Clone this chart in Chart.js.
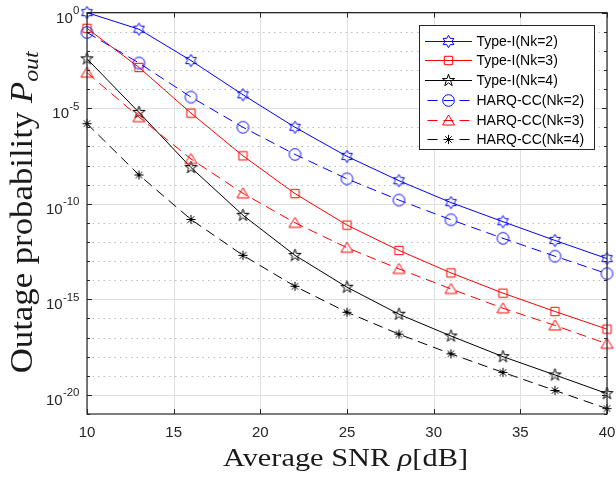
<!DOCTYPE html>
<html>
<head>
<meta charset="utf-8">
<script src="https://cdn.jsdelivr.net/npm/chart.js@4.4.1/dist/chart.umd.min.js"></script>
<style>
html,body{margin:0;padding:0;background:#ffffff;}
#wrap{width:616px;height:481px;}
canvas{display:block;}
</style>
</head>
<body>
<div id="wrap"><canvas id="chart" width="616" height="481"></canvas></div>
<script>
// ---------------- data ----------------
const snr = [10, 13, 16, 19, 22, 25, 28, 31, 34, 37, 40];
const typeI_Nk2 = [1, 1.35e-1, 3.1e-3, 5.0e-5, 1.0e-6, 3.0e-8, 1.6e-9, 1.15e-10, 1.15e-11, 1.2e-12, 1.35e-13];
const typeI_Nk3 = [1.5e-1, 1.35e-3, 5.5e-6, 3.2e-8, 3.4e-10, 7.6e-12, 3.6e-13, 2.4e-14, 2.1e-15, 2.3e-16, 2.75e-17];
const typeI_Nk4 = [3.8e-3, 6.0e-6, 7.8e-9, 2.5e-11, 2.0e-13, 4.3e-15, 1.66e-16, 1.2e-17, 1.0e-18, 1.1e-19, 1.17e-20];
const harq_Nk2 = [9.1e-2, 2.3e-3, 3.8e-5, 1.0e-6, 3.8e-8, 2.0e-9, 1.55e-10, 1.45e-11, 1.55e-12, 1.8e-13, 2.2e-14];
const harq_Nk3 = [7.2e-4, 3.4e-6, 2.2e-8, 3.5e-10, 1.0e-11, 5.0e-13, 3.9e-14, 3.5e-15, 3.4e-16, 4.3e-17, 4.7e-18];
const harq_Nk4 = [1.55e-6, 3.2e-9, 1.5e-11, 2.0e-13, 4.8e-15, 2.1e-16, 1.5e-17, 1.4e-18, 1.5e-19, 1.7e-20, 1.9e-21];
const seriesLabels = ['Type-I(Nk=2)', 'Type-I(Nk=3)', 'Type-I(Nk=4)', 'HARQ-CC(Nk=2)', 'HARQ-CC(Nk=3)', 'HARQ-CC(Nk=4)'];
const xTickValues = [10, 15, 20, 25, 30, 35, 40];
const yMajorExponents = [0, -5, -10, -15, -20];
const xTitleText = ['Average SNR ', 'ρ', '[dB]'];
const yTitleText = ['Outage probability ', 'P', 'out'];

// ---------------- styles ----------------
const AX = '#262626';
function makeMarker(kind, color) {
  const S = 19, m = S / 2;
  const c = document.createElement('canvas');
  c.width = S; c.height = S;
  const g = c.getContext('2d');
  g.strokeStyle = color; g.lineWidth = 1; g.lineJoin = 'miter';
  g.beginPath();
  if (kind === 'circle') {
    g.arc(m, m, 5.8, 0, Math.PI * 2);
  } else if (kind === 'square') {
    g.rect(m - 4.2, m - 4.2, 8.4, 8.4);
  } else if (kind === 'triangle') {
    g.moveTo(m, m - 5.5); g.lineTo(m + 6, m + 4.5); g.lineTo(m - 6, m + 4.5); g.closePath();
  } else if (kind === 'pentagram' || kind === 'hexagram') {
    const n = kind === 'pentagram' ? 5 : 6;
    const R = kind === 'pentagram' ? 6.4 : 6.2;
    const r = kind === 'pentagram' ? R * 0.382 : R * 0.577;
    for (let i = 0; i < 2 * n; i++) {
      const a = -Math.PI / 2 + i * Math.PI / n;
      const rr = i % 2 ? r : R;
      const px = m + rr * Math.cos(a), py = m + rr * Math.sin(a);
      if (i) g.lineTo(px, py); else g.moveTo(px, py);
    }
    g.closePath();
  } else if (kind === 'asterisk') {
    const r = 4.6;
    for (let i = 0; i < 4; i++) {
      const a = i * Math.PI / 4;
      g.moveTo(m - r * Math.cos(a), m - r * Math.sin(a));
      g.lineTo(m + r * Math.cos(a), m + r * Math.sin(a));
    }
  }
  g.stroke();
  return c;
}

const seriesValues = [typeI_Nk2, typeI_Nk3, typeI_Nk4, harq_Nk2, harq_Nk3, harq_Nk4];
const seriesColors = ['#0000ff', '#ff0000', '#000000', '#0000ff', '#ff0000', '#000000'];
const seriesMarkers = ['hexagram', 'square', 'pentagram', 'circle', 'triangle', 'asterisk'];
const seriesDashed = [false, false, false, true, true, true];
const DASH = [10, 6];

const datasets = seriesLabels.map((lab, i) => ({
  label: lab,
  data: snr.map((x, j) => ({ x: x, y: seriesValues[i][j] })),
  borderColor: seriesColors[i],
  backgroundColor: 'rgba(0,0,0,0)',
  borderWidth: 1,
  borderDash: seriesDashed[i] ? DASH : [],
  pointStyle: makeMarker(seriesMarkers[i], seriesColors[i]),
  pointRadius: 6,
  pointHoverRadius: 6,
  tension: 0,
  fill: false,
  clip: false,
  order: 6 - i
}));

// ---------------- helpers ----------------
function drawRuns(ctx, runs, targetW) {
  let W = 0;
  runs.forEach(r => { ctx.font = r.font; r.w = ctx.measureText(r.t).width; W += r.w; });
  const sx = targetW ? targetW / W : 1;
  ctx.save();
  ctx.scale(sx, 1);
  let cx = -W / 2;
  ctx.textAlign = 'left';
  ctx.textBaseline = 'alphabetic';
  runs.forEach(r => { ctx.font = r.font; ctx.fillText(r.t, cx, r.dy || 0); cx += r.w; });
  ctx.restore();
}
function hline(ctx, x1, x2, y) { ctx.beginPath(); ctx.moveTo(x1, y); ctx.lineTo(x2, y); ctx.stroke(); }
function vline(ctx, x, y1, y2) { ctx.beginPath(); ctx.moveTo(x, y1); ctx.lineTo(x, y2); ctx.stroke(); }

const matlabAxes = {
  id: 'matlabAxes',
  beforeDatasetsDraw(chart) {
    const { ctx, chartArea: a, scales } = chart;
    const xs = scales.x, ys = scales.y;
    ctx.save();
    ctx.lineWidth = 1;
    ctx.strokeStyle = '#bdbdbd';
    ctx.setLineDash([1.5, 4]);
    for (let e = -1; e >= -20; e--) {
      if (e % 5 === 0) continue;
      const py = Math.round(ys.getPixelForValue(Math.pow(10, e))) + 0.5;
      hline(ctx, a.left, a.right, py);
    }
    ctx.setLineDash([]);
    ctx.strokeStyle = '#dfdfdf';
    yMajorExponents.forEach(e => {
      const py = Math.round(ys.getPixelForValue(Math.pow(10, e))) + 0.5;
      hline(ctx, a.left, a.right, py);
    });
    xTickValues.forEach(v => {
      const px = Math.round(xs.getPixelForValue(v)) + 0.5;
      vline(ctx, px, a.top, a.bottom);
    });
    ctx.restore();
  },
  afterDatasetsDraw(chart) {
    const { ctx, chartArea: a, scales } = chart;
    const xs = scales.x, ys = scales.y;
    ctx.save();
    ctx.strokeStyle = AX; ctx.lineWidth = 1; ctx.setLineDash([]);
    xTickValues.forEach(v => {
      const px = Math.round(xs.getPixelForValue(v)) + 0.5;
      vline(ctx, px, a.bottom, a.bottom - 5);
      vline(ctx, px, a.top, a.top + 5);
    });
    for (let e = 0; e >= -21; e--) {
      const py = Math.round(ys.getPixelForValue(Math.pow(10, e))) + 0.5;
      const len = (e % 5 === 0) ? 5 : 3;
      hline(ctx, a.left, a.left + len, py);
      hline(ctx, a.right - len, a.right, py);
    }
    ctx.lineWidth = 1.2;
    ctx.strokeStyle = AX;
    ctx.strokeRect(a.left, a.top, a.right - a.left, a.bottom - a.top);

    // y tick labels (10^e)
    ctx.fillStyle = AX;
    ctx.textBaseline = 'alphabetic';
    yMajorExponents.forEach(e => {
      const py = ys.getPixelForValue(Math.pow(10, e));
      const expStr = e === 0 ? '0' : '-' + Math.abs(e);
      const right = a.left - 7.5;
      ctx.font = '11.5px "Liberation Sans", Arial, sans-serif';
      const ew = ctx.measureText(expStr).width;
      ctx.textAlign = 'left';
      ctx.fillText(expStr, right - ew, py + 1.5);
      ctx.font = '15px "Liberation Sans", Arial, sans-serif';
      ctx.textAlign = 'right';
      ctx.fillText('10', right - ew - 0.3, py + 10);
    });

    // x title
    ctx.fillStyle = '#1a1a1a';
    ctx.save();
    ctx.translate((a.left + a.right) / 2 - 1.5, 466);
    drawRuns(ctx, [
      { t: xTitleText[0], font: '26px "Liberation Serif", "Times New Roman", serif' },
      { t: xTitleText[1], font: 'italic 26px "Liberation Serif", "Times New Roman", serif' },
      { t: xTitleText[2], font: '26px "Liberation Serif", "Times New Roman", serif' }
    ], 245);
    ctx.restore();

    // y title
    ctx.save();
    ctx.translate(32, (a.top + a.bottom) / 2 - 1);
    ctx.rotate(-Math.PI / 2);
    drawRuns(ctx, [
      { t: yTitleText[0], font: '32px "Liberation Serif", "Times New Roman", serif' },
      { t: yTitleText[1], font: 'italic 32px "Liberation Serif", "Times New Roman", serif' },
      { t: yTitleText[2], font: 'italic 22px "Liberation Serif", "Times New Roman", serif', dy: 6 }
    ], 322);
    ctx.restore();

    // legend
    const L = 419.5, T = 25.5, R = 594.5, B = 149.5;
    ctx.fillStyle = '#ffffff';
    ctx.fillRect(L, T, R - L, B - T);
    ctx.lineWidth = 1;
    ctx.strokeStyle = AX;
    ctx.strokeRect(L, T, R - L, B - T);
    const rowY0 = 40.7, rowStep = 19.72;
    chart.data.datasets.forEach((ds, i) => {
      const cy = Math.round(rowY0 + i * rowStep) + 0.5;
      const x1 = 425, x2 = 472, cx = (x1 + x2) / 2;
      ctx.save();
      ctx.strokeStyle = ds.borderColor;
      ctx.lineWidth = 1;
      if (ds.borderDash && ds.borderDash.length) {
        ctx.setLineDash(ds.borderDash);
        const period = ds.borderDash[0] + ds.borderDash[1];
        const startOfCenterDash = cx - ds.borderDash[0] / 2;
        let off = (x1 - startOfCenterDash) % period;
        if (off < 0) off += period;
        ctx.lineDashOffset = off;
      }
      hline(ctx, x1, x2, cy);
      ctx.restore();
      const img = ds.pointStyle;
      ctx.drawImage(img, Math.round(cx - img.width / 2), Math.round(cy - img.height / 2));
      ctx.fillStyle = '#000000';
      ctx.font = '14px "Liberation Sans", Arial, sans-serif';
      ctx.textAlign = 'left';
      ctx.textBaseline = 'middle';
      ctx.fillText(ds.label, 476.5, cy + 0.5);
    });
    ctx.restore();
  }
};

new Chart(document.getElementById('chart'), {
  type: 'line',
  data: { datasets: datasets },
  options: {
    responsive: false,
    animation: false,
    devicePixelRatio: 1,
    layout: { padding: { left: 87, right: 9, top: 12.6, bottom: 39 } },
    plugins: { legend: { display: false }, tooltip: { enabled: false } },
    scales: {
      x: {
        type: 'linear', min: 10, max: 40,
        grid: { display: false, drawTicks: false },
        border: { display: false },
        ticks: {
          stepSize: 5, autoSkip: false, maxRotation: 0, minRotation: 0, padding: 10,
          color: AX, font: { family: '"Liberation Sans", Arial, sans-serif', size: 15, lineHeight: 1.2 }
        },
        afterFit(scale) { scale.height = 28; scale.paddingLeft = 0; scale.paddingRight = 0; }
      },
      y: {
        type: 'logarithmic', min: 1e-21, max: 1,
        display: false
      }
    }
  },
  plugins: [matlabAxes]
});
</script>
</body>
</html>
